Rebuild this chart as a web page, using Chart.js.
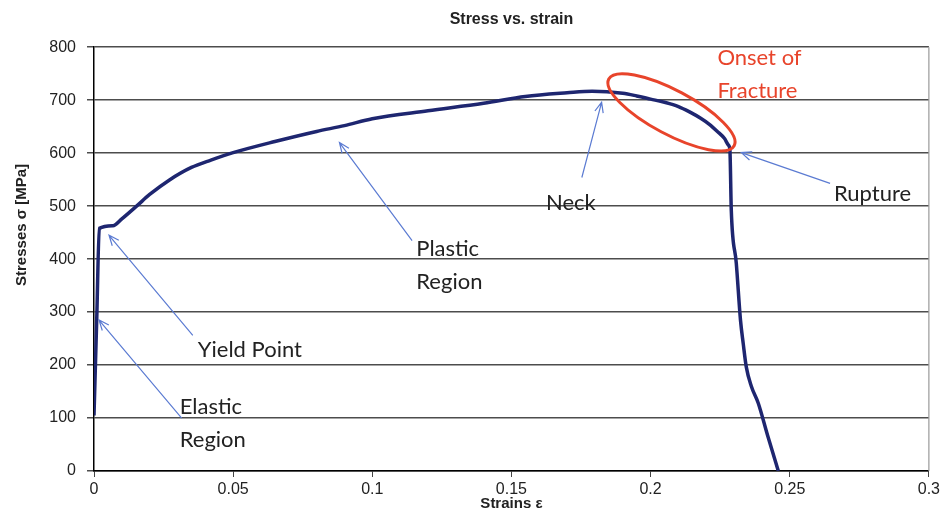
<!DOCTYPE html>
<html>
<head>
<meta charset="utf-8">
<script src="https://cdn.jsdelivr.net/npm/chart.js@4.4.0/dist/chart.umd.min.js"></script>
<style>
  body { margin: 0; background: #fff; }
  canvas { display: block; }
</style>
</head>
<body>
<canvas id="chart" width="943" height="517"></canvas>
<script>
// strain / stress
const strain = [0, 0.0010, 0.0019, 0.0068, 0.01, 0.0155, 0.02, 0.027, 0.035, 0.042, 0.05, 0.065, 0.08, 0.09, 0.1, 0.12, 0.14, 0.155, 0.17, 0.179, 0.19, 0.195, 0.2, 0.205, 0.21, 0.214, 0.218, 0.221, 0.224, 0.2265, 0.228, 0.2285, 0.229, 0.2308, 0.2323, 0.2333, 0.2344, 0.2362, 0.2387, 0.242, 0.2459];
const stress = [105, 290, 458, 463, 476, 501, 522, 549, 573, 587, 601, 622, 641, 652, 665, 680, 694, 707, 714, 717, 713, 708, 702, 696, 688, 678, 666, 655, 641, 628, 615, 606, 492, 392, 285, 240, 196, 160, 128, 68, 0];

const xTickStep = 0.05;
const yTickStep = 100;

// annotation labels, anchored in data units
const notes = [
  { lines: ["Elastic", "Region"], x: 0.0308, y: 121, color: "#222" },
  { lines: ["Yield Point"], x: 0.0373, y: 228, color: "#222" },
  { lines: ["Plastic", "Region"], x: 0.1158, y: 420, color: "#222" },
  { lines: ["Neck"], x: 0.1624, y: 507, color: "#222" },
  { lines: ["Rupture"], x: 0.2659, y: 524, color: "#222" },
  { lines: ["Onset of", "Fracture"], x: 0.224, y: 779, color: "#e8442b" }
];
const arrows = [
  { from: [0.0315, 100], to: [0.0018, 285] },
  { from: [0.0355, 256], to: [0.0054, 445] },
  { from: [0.1143, 435], to: [0.0882, 620] },
  { from: [0.1753, 554], to: [0.1824, 696] },
  { from: [0.2645, 543], to: [0.2326, 601] }
];
const fractureRing = { x: 0.2075, y: 677 };

const extras = {
  id: "extras",
  afterDraw(chart) {
    const ctx = chart.ctx;
    const xs = chart.scales.x, ys = chart.scales.y;
    const area = chart.chartArea;
    ctx.save();

    // right frame line
    ctx.strokeStyle = "#999";
    ctx.lineWidth = 1.2;
    ctx.beginPath();
    ctx.moveTo(area.right, area.top);
    ctx.lineTo(area.right, area.bottom);
    ctx.stroke();

    // y axis title
    ctx.save();
    ctx.translate(22, 225);
    ctx.rotate(-Math.PI / 2);
    ctx.font = "bold 15px 'Liberation Sans', Arial";
    ctx.fillStyle = "#222";
    ctx.textAlign = "center";
    ctx.textBaseline = "middle";
    ctx.fillText("Stresses σ [MPa]", 0, 0);
    ctx.restore();

    // arrows
    ctx.strokeStyle = "#5b7bd2";
    ctx.lineWidth = 1.2;
    arrows.forEach(a => {
      const x1 = xs.getPixelForValue(a.from[0]), y1 = ys.getPixelForValue(a.from[1]);
      const x2 = xs.getPixelForValue(a.to[0]), y2 = ys.getPixelForValue(a.to[1]);
      const ang = Math.atan2(y2 - y1, x2 - x1);
      ctx.beginPath();
      ctx.moveTo(x1, y1);
      ctx.lineTo(x2, y2);
      ctx.moveTo(x2 - 11 * Math.cos(ang - 0.4), y2 - 11 * Math.sin(ang - 0.4));
      ctx.lineTo(x2, y2);
      ctx.lineTo(x2 - 11 * Math.cos(ang + 0.4), y2 - 11 * Math.sin(ang + 0.4));
      ctx.stroke();
    });

    // red ring around onset of fracture
    ctx.strokeStyle = "#e8442b";
    ctx.lineWidth = 3;
    ctx.beginPath();
    ctx.ellipse(xs.getPixelForValue(fractureRing.x), ys.getPixelForValue(fractureRing.y), 71, 22, 28 * Math.PI / 180, 0, Math.PI * 2);
    ctx.stroke();

    // labels
    ctx.font = "22px Lato, 'Open Sans', sans-serif";
    ctx.textAlign = "left";
    ctx.textBaseline = "middle";
    notes.forEach(n => {
      ctx.fillStyle = n.color;
      const px = xs.getPixelForValue(n.x), py = ys.getPixelForValue(n.y);
      n.lines.forEach((t, i) => ctx.fillText(t, px, py + i * 33));
    });
    ctx.restore();
  }
};

const data = {
  datasets: [{
    label: "Stress",
    data: strain.map((s, i) => ({ x: s, y: stress[i] })),
    showLine: true,
    borderColor: "#1e2670",
    borderWidth: 3.5,
    pointRadius: 0,
    cubicInterpolationMode: "monotone"
  }]
};

const config = {
  type: "scatter",
  data: data,
  options: {
    responsive: false,
    animation: false,
    layout: { padding: { left: 0, right: 12, top: 0, bottom: 0 } },
    plugins: {
      legend: { display: false },
      tooltip: { enabled: false },
      title: {
        display: true,
        text: "Stress vs. strain",
        fullSize: false,
        color: "#222",
        font: { family: "'Liberation Sans', Arial", size: 16, weight: "bold" },
        padding: { top: 10, bottom: 18 }
      }
    },
    scales: {
      x: {
        type: "linear",
        min: 0,
        max: 0.3,
        afterFit: axis => { axis.height = 46; },
        ticks: {
          stepSize: xTickStep,
          color: "#222",
          padding: 3,
          font: { family: "'Liberation Sans', Arial", size: 16 },
          callback: v => String(+v.toFixed(2))
        },
        grid: { drawOnChartArea: false, drawTicks: true, tickLength: 6, color: "#444" },
        border: { color: "#000", width: 1.5 },
        title: {
          display: true,
          text: "Strains ε",
          color: "#222",
          font: { family: "'Liberation Sans', Arial", size: 15, weight: "bold" }
        }
      },
      y: {
        min: 0,
        max: 800,
        afterFit: axis => { axis.width = 94; },
        ticks: {
          stepSize: yTickStep,
          color: "#222",
          padding: 11,
          font: { family: "'Liberation Sans', Arial", size: 16 }
        },
        grid: { color: "#4d4d4d", lineWidth: 1.5, tickLength: 7 },
        border: { color: "#000", width: 1.5 }
      }
    }
  },
  plugins: [extras]
};

const myChart = new Chart(document.getElementById("chart"), config);
</script>
</body>
</html>
